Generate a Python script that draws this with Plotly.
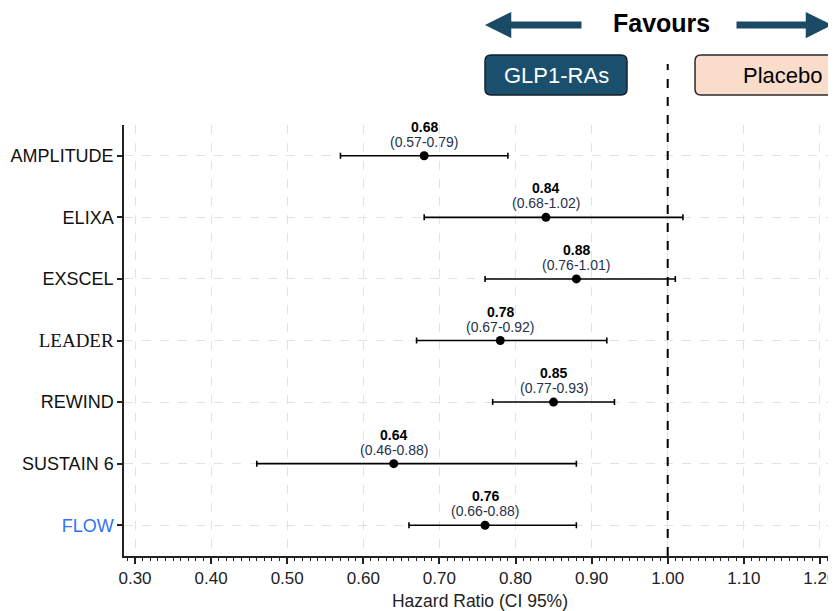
import plotly.graph_objects as go

trials = ["AMPLITUDE", "ELIXA", "EXSCEL", "LEADER", "REWIND", "SUSTAIN 6", "FLOW"]
hr = [0.68, 0.84, 0.88, 0.78, 0.85, 0.64, 0.76]
ci_lo = [0.57, 0.68, 0.76, 0.67, 0.77, 0.46, 0.66]
ci_hi = [0.79, 1.02, 1.01, 0.92, 0.93, 0.88, 0.88]
x_ticks = [0.30, 0.40, 0.50, 0.60, 0.70, 0.80, 0.90, 1.00, 1.10, 1.20]

OFF = 8  # page body margin
W, H = 836 - OFF, 611 - OFF
ML, MR, MT, MB = 124 - OFF, 0, 125 - OFF, H - (556 - OFF)
PW, PH = W - ML - MR, H - MT - MB


def px(x):
    return (x - OFF - ML) / PW


def py(y):
    return (H - MB - (y - OFF)) / PH


ypos = list(range(len(trials)))
tick_text = []
for t in trials:
    if t == "LEADER":
        tick_text.append('<span style="font-family:Liberation Serif;font-size:19px">LEADER</span>')
    elif t == "FLOW":
        tick_text.append('<span style="color:#2f74f5">FLOW</span>')
    else:
        tick_text.append(t)

fig = go.Figure()
fig.add_trace(go.Scatter(
    x=hr, y=ypos, mode="markers",
    marker=dict(color="black", size=9),
    error_x=dict(type="data", symmetric=False,
                 array=[h - v for h, v in zip(ci_hi, hr)],
                 arrayminus=[v - l for v, l in zip(hr, ci_lo)],
                 color="black", thickness=1.6, width=3),
    showlegend=False, hoverinfo="skip",
))

FONT = "Liberation Sans, Arial, sans-serif"
annotations = []
for i, (v, l, h) in enumerate(zip(hr, ci_lo, ci_hi)):
    annotations.append(dict(x=v, y=i, xref="x", yref="y", text=f"<b>{v:.2f}</b>",
                            showarrow=False, yshift=29, xanchor="center", yanchor="middle",
                            font=dict(family=FONT, size=14, color="black")))
    annotations.append(dict(x=v, y=i, xref="x", yref="y", text=f"({l:.2f}-{h:.2f})",
                            showarrow=False, yshift=14, xanchor="center", yanchor="middle",
                            font=dict(family=FONT, size=14, color="#26324a")))

# Favours header
annotations.append(dict(x=px(661), y=py(23), xref="paper", yref="paper", text="<b>Favours</b>",
                        showarrow=False, xanchor="center", yanchor="middle",
                        font=dict(family=FONT, size=25, color="black")))
annotations.append(dict(x=px(485), y=py(25), xref="paper", yref="paper", text="",
                        showarrow=True, ax=98, ay=0, axref="pixel", ayref="pixel",
                        arrowhead=2, arrowsize=0.75, arrowwidth=7, arrowcolor="#1b4a66"))
annotations.append(dict(x=px(832), y=py(25), xref="paper", yref="paper", text="",
                        showarrow=True, ax=-97, ay=0, axref="pixel", ayref="pixel",
                        arrowhead=2, arrowsize=0.75, arrowwidth=7, arrowcolor="#1b4a66"))
annotations.append(dict(x=px(556), y=py(75), xref="paper", yref="paper", text="GLP1-RAs",
                        showarrow=False, xanchor="center", yanchor="middle",
                        font=dict(family=FONT, size=22, color="white")))
annotations.append(dict(x=px(783), y=py(75), xref="paper", yref="paper", text="Placebo",
                        showarrow=False, xanchor="center", yanchor="middle",
                        font=dict(family=FONT, size=22, color="black")))


def rounded_rect(x0, y0, x1, y1, r=6):
    def P(x, y):
        return f"{px(x):.5f},{py(y):.5f}"
    return (f"M {P(x0 + r, y0)} L {P(x1 - r, y0)} Q {P(x1, y0)} {P(x1, y0 + r)} "
            f"L {P(x1, y1 - r)} Q {P(x1, y1)} {P(x1 - r, y1)} "
            f"L {P(x0 + r, y1)} Q {P(x0, y1)} {P(x0, y1 - r)} "
            f"L {P(x0, y0 + r)} Q {P(x0, y0)} {P(x0 + r, y0)} Z")


shapes = [
    dict(type="path", xref="paper", yref="paper", path=rounded_rect(485, 55, 627, 95),
         fillcolor="#1b4f6e", line=dict(color="#15202b", width=1.5), layer="above"),
    dict(type="path", xref="paper", yref="paper", path=rounded_rect(695, 55, 850, 95),
         fillcolor="#f9ddca", line=dict(color="#2a2a2a", width=1.5), layer="above"),
    dict(type="line", xref="x", yref="paper", x0=1.0, x1=1.0, y0=0, y1=py(64),
         line=dict(color="black", width=2, dash="dash"), layer="above"),
]

x_range = [0.30 - (135 - 124) / 761, 0.30 + (836 - 135) / 761]

fig.update_layout(
    width=W, height=H, margin=dict(l=ML, r=MR, t=MT, b=MB),
    plot_bgcolor="white", paper_bgcolor="white",
    annotations=annotations, shapes=shapes,
    font=dict(family=FONT, size=14, color="#222"),
    xaxis=dict(range=x_range, tickmode="array", tickvals=x_ticks,
               ticktext=[f"{v:.2f}" for v in x_ticks],
               ticklabeloverflow="allow",
               showline=True, linecolor="#222", linewidth=1.5,
               ticks="outside", ticklen=6, tickwidth=1.5, tickcolor="#222",
               showgrid=True, gridcolor="#e2e2e2", griddash="dash", gridwidth=1,
               zeroline=False,
               minor=dict(dtick=0.01, tick0=0.30, ticks="outside", ticklen=3,
                          tickcolor="#222", tickwidth=1, showgrid=False),
               title=dict(text="Hazard Ratio (CI 95%)", font=dict(size=17.5, color="#222"), standoff=8),
               tickfont=dict(size=17, color="#222")),
    yaxis=dict(range=[6.5, -0.5], tickmode="array", tickvals=ypos, ticktext=tick_text,
               showline=True, linecolor="#222", linewidth=1.5,
               ticks="outside", ticklen=5, tickwidth=1.5, tickcolor="#222",
               showgrid=True, gridcolor="#e2e2e2", griddash="dash", gridwidth=1,
               zeroline=False, tickfont=dict(size=18, color="#111")),
)

fig.write_html("out.html")
